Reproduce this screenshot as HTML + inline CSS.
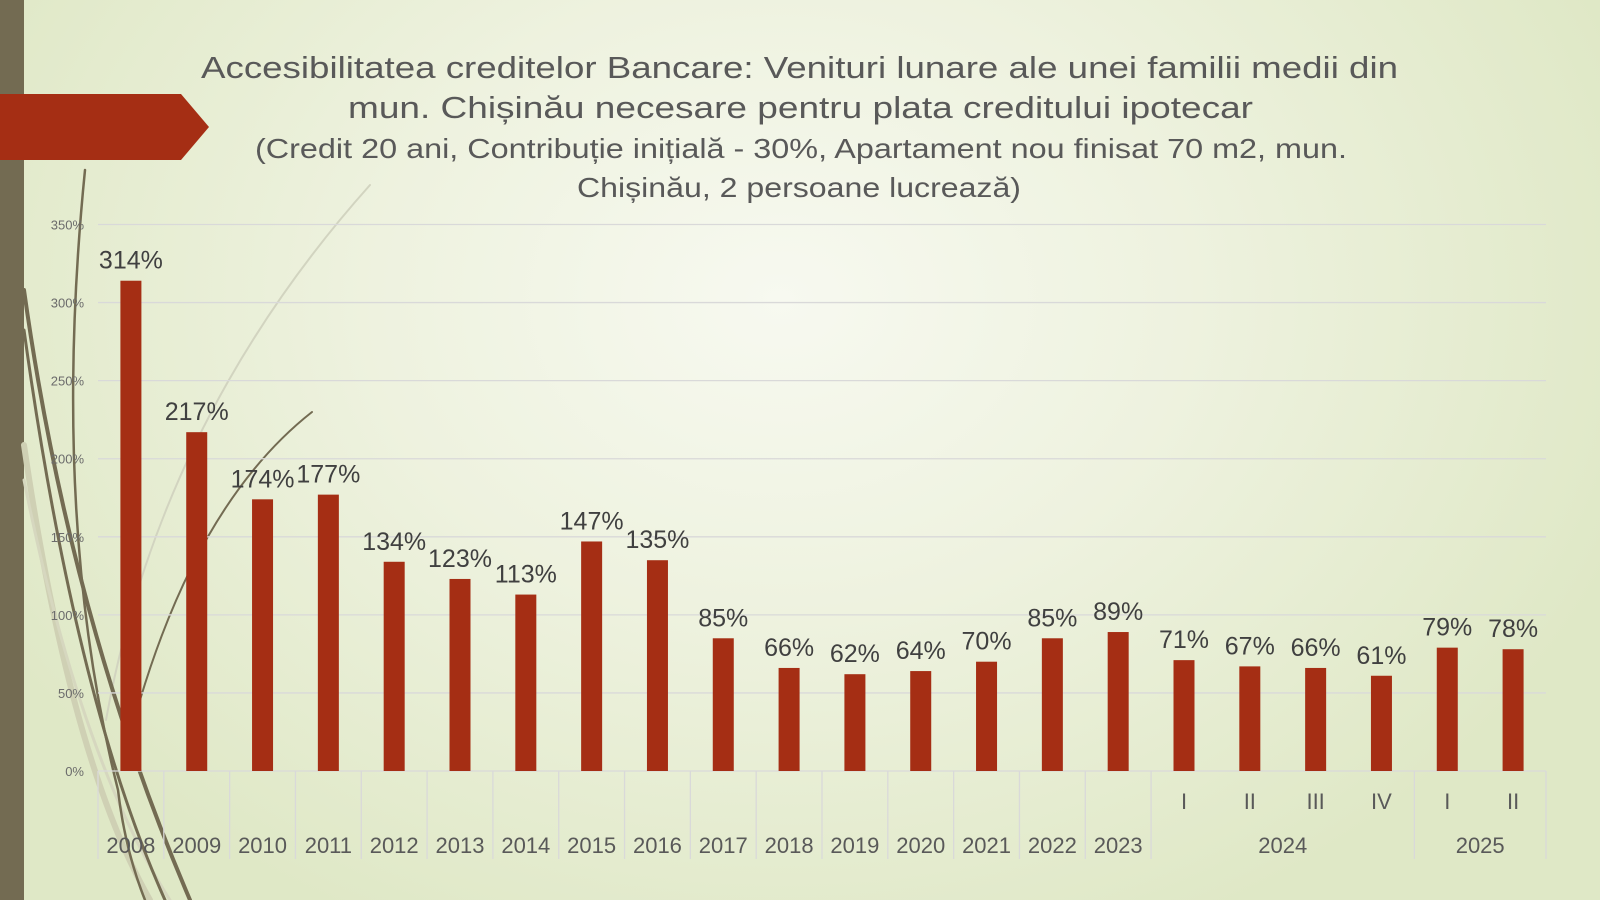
<!DOCTYPE html>
<html><head><meta charset="utf-8"><style>
html,body{margin:0;padding:0;width:1600px;height:900px;overflow:hidden}
body{background:radial-gradient(ellipse 900px 700px at 780px 300px,#f7f9f0 0%,#eef2df 45%,#dfe8c6 100%);font-family:"Liberation Sans","DejaVu Sans",sans-serif}
svg{position:absolute;left:0;top:0}
</style></head><body>
<svg width="1600" height="900" id="s" xmlns="http://www.w3.org/2000/svg">
<rect x="0" y="0" width="24" height="900" fill="#736b52"/>
<g fill="none" stroke-linecap="round">
<path d="M370 185 Q160 420 106 720" stroke="#d2d4c0" stroke-width="2"/>
<path d="M24 445 Q70 760 150 900" stroke="#cfd0b4" stroke-width="6"/>
<path d="M24 480 Q80 760 170 900" stroke="#d6d7bf" stroke-width="3"/>
<path d="M85 170 Q50 520 118 790 Q125 850 145 900" stroke="#736b52" stroke-width="2.5"/>
<path d="M24 290 Q70 620 190 900" stroke="#736b52" stroke-width="4"/>
<path d="M24 330 Q75 700 165 900" stroke="#736b52" stroke-width="3"/>
<path d="M312 412 Q200 500 140 700" stroke="#736b52" stroke-width="2"/>
</g>
<polygon points="0,94 181,94 209,127 181,160 0,160" fill="#a52e14"/>
<g font-size="31" fill="#595959">
<text x="201" y="78" textLength="1197" lengthAdjust="spacingAndGlyphs">Accesibilitatea creditelor Bancare: Venituri lunare ale unei familii medii din</text>
<text x="348" y="118" textLength="905" lengthAdjust="spacingAndGlyphs">mun. Chișinău necesare pentru plata creditului ipotecar</text>
<text x="255" y="158" font-size="28" textLength="1092" lengthAdjust="spacingAndGlyphs">(Credit 20 ani, Contribuție inițială - 30%, Apartament nou finisat 70 m2, mun.</text>
<text x="577" y="197" font-size="28" textLength="444" lengthAdjust="spacingAndGlyphs">Chișinău, 2 persoane lucrează)</text>
</g>
<g id="g"></g>
</svg>
<script>
var g=document.getElementById('g'),h='';
var vals=[314,217,174,177,134,123,113,147,135,85,66,62,64,70,85,89,71,67,66,61,79,78];
var labs=['2008','2009','2010','2011','2012','2013','2014','2015','2016','2017','2018','2019','2020','2021','2022','2023'];
var q=['I','II','III','IV','I','II'];
var x0=98,x1=1546,cw=(x1-x0)/22,y0=771,u=78.07/50;
for(var k=0;k<=7;k++){var y=y0-k*50*u;h+='<line x1="'+x0+'" x2="'+x1+'" y1="'+y+'" y2="'+y+'" stroke="#d9d9d9" stroke-width="1.3"/>';
h+='<text x="84" y="'+(y+5)+'" font-size="13" fill="#6b6b6b" text-anchor="end">'+(k*50)+'%</text>';}
for(var i=0;i<22;i++){var c=x0+cw*(i+0.5),bh=vals[i]*u;
h+='<rect x="'+(c-10.5)+'" y="'+(y0-bh)+'" width="21" height="'+bh+'" fill="#a52e14"/>';
h+='<text x="'+c+'" y="'+(y0-bh-12)+'" font-size="25" fill="#404040" text-anchor="middle">'+vals[i]+'%</text>';
if(i<16)h+='<text x="'+c+'" y="'+853+'" font-size="22" fill="#595959" text-anchor="middle">'+labs[i]+'</text>';
else h+='<text x="'+c+'" y="809" font-size="22" fill="#595959" text-anchor="middle">'+q[i-16]+'</text>';}
var seps=[0,1,2,3,4,5,6,7,8,9,10,11,12,13,14,15,16,20,22];
seps.forEach(function(s){var x=x0+cw*s;h+='<line x1="'+x+'" x2="'+x+'" y1="'+y0+'" y2="859" stroke="#d9d9d9" stroke-width="1.3"/>';});
h+='<text x="'+(x0+cw*18)+'" y="853" font-size="22" fill="#595959" text-anchor="middle">2024</text>';
h+='<text x="'+(x0+cw*21)+'" y="853" font-size="22" fill="#595959" text-anchor="middle">2025</text>';
g.innerHTML=h;
</script>
</body></html>
